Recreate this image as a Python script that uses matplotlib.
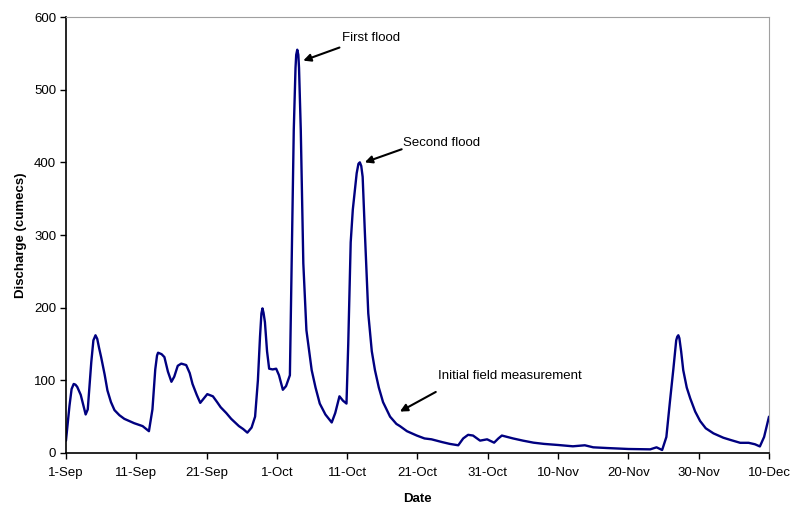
import matplotlib
matplotlib.use("Agg")
import matplotlib.pyplot as plt

plt.rcParams.update({
    "font.family": ["Liberation Sans", "DejaVu Sans"],
    "font.size": 9.5,
})

# ── data (days after 1-Sep, discharge in cumecs) ──────────────────────────────
days = [
    0, 0.5, 0.8, 1.1, 1.35, 1.6, 2.1, 2.8, 3.1, 3.6, 3.9, 4.2, 4.45, 4.7, 5.0,
    5.5, 5.9, 6.4, 6.9, 7.6, 8.3, 9.0, 9.7, 10.9, 11.8, 12.3, 12.7, 12.95,
    13.1, 13.6, 14.0, 14.5, 15.0, 15.4, 15.9, 16.4, 17.1, 17.6, 18.0, 18.6,
    19.1, 19.6, 20.1, 20.9, 21.5, 22.0, 22.8, 23.5, 24.6, 25.2, 25.8, 26.4,
    26.9, 27.3, 27.6, 27.8, 27.95, 28.1, 28.3, 28.6, 28.9, 29.4, 29.9, 30.3,
    30.85, 31.3, 31.85, 32.1, 32.4, 32.65, 32.75, 32.9, 33.05, 33.15, 33.4,
    33.76, 34.2, 34.95, 35.5, 36.1, 36.9, 37.8, 38.3, 38.9, 39.4, 39.9, 40.15,
    40.5, 40.8, 41.35, 41.6, 41.8, 42.0, 42.2, 42.5, 43.0, 43.5, 43.95, 44.5,
    45.1, 46.1, 47.0, 47.5, 48.5, 49.9, 51.0, 52.0, 53.5, 54.6, 55.8, 56.5,
    57.2, 57.9, 58.9, 59.9, 60.9, 61.5, 62.0, 63.6, 65.0, 66.5, 68.0, 70.0,
    72.1, 73.8, 75.0, 77.0, 80.0, 83.1, 84.0, 84.8, 85.4, 85.9, 86.4, 86.8,
    86.95, 87.1, 87.25, 87.5, 87.8, 88.3, 88.8, 89.5, 90.2, 91.0, 92.1, 93.5,
    94.5, 95.9, 97.1, 98.0, 98.7, 99.3, 100.0,
]
discharge = [
    17, 65, 88, 95, 94, 91, 80, 53, 60, 125, 155, 162, 157, 145, 132,
    108, 86, 70, 59, 52, 47, 44, 41, 37, 30, 60, 115, 134,
    138, 136, 132, 112, 98, 105, 120, 123, 121, 110, 95, 80,
    69, 75, 81, 78, 70, 63, 55, 47, 37, 33, 28, 35,
    50, 100, 160, 192, 199, 193, 180, 140, 116, 115, 116, 107,
    87, 92, 107, 261, 444, 530, 548, 555, 548, 530, 444,
    261, 169, 114, 90, 68, 53, 42, 55, 78, 72, 68, 150,
    290, 335, 385, 398, 400, 395, 380, 307, 192, 140, 114, 90,
    70, 50, 40, 37, 30, 24, 20, 18.8, 15, 12.5, 10.6, 20,
    25, 24, 17, 18.8, 14.2, 20, 24, 20, 17, 14.2, 12.5, 11,
    9.2, 10.6, 7.8, 6.8, 5.5, 5, 7.8, 4.1, 22, 70, 116, 155,
    160, 162, 158, 140, 114, 90, 75, 57, 44, 34, 27, 21,
    18, 14, 14, 12, 9, 22, 50,
]

tick_days = [0, 10, 20, 30, 40, 50, 60, 70, 80, 90, 100]
tick_labels = ["1-Sep", "11-Sep", "21-Sep", "1-Oct", "11-Oct", "21-Oct",
               "31-Oct", "10-Nov", "20-Nov", "30-Nov", "10-Dec"]

# ── figure ────────────────────────────────────────────────────────────────────
fig = plt.figure(figsize=(7.91, 5.05), dpi=100)
ax = fig.add_axes([0.0834, 0.103, 0.8888, 0.8633])

ax.plot(days, discharge, color="#000080", linewidth=1.7,
        solid_joinstyle="round", solid_capstyle="round")

ax.set_xlim(0, 100)
ax.set_ylim(0, 600)
ax.set_xticks(tick_days)
ax.set_xticklabels(tick_labels)
ax.set_yticks(range(0, 601, 100))

ax.tick_params(axis="x", direction="out", length=4, width=1, pad=6)
ax.tick_params(axis="y", direction="out", length=4, width=1, pad=3)

for side in ["top", "right"]:
    ax.spines[side].set_color("#a0a0a0")
for side in ["left", "bottom"]:
    ax.spines[side].set_color("black")
    ax.spines[side].set_linewidth(1.2)

ax.set_xlabel("Date", fontweight="bold", labelpad=10)
ax.set_ylabel("Discharge (cumecs)", fontweight="bold", labelpad=5)

# ── annotations ───────────────────────────────────────────────────────────────
arrow = dict(arrowstyle="-|>", color="black", lw=1.5, mutation_scale=11,
             shrinkA=0, shrinkB=0)

ax.annotate("", xy=(33.75, 540), xytext=(38.9, 558), arrowprops=arrow)
ax.text(39.2, 571, "First flood", ha="left", va="center")

ax.annotate("", xy=(42.5, 400), xytext=(47.75, 418), arrowprops=arrow)
ax.text(48.0, 427, "Second flood", ha="left", va="center")

ax.annotate("", xy=(47.5, 57), xytext=(52.6, 84), arrowprops=arrow)
ax.text(52.9, 106, "Initial field measurement", ha="left", va="center")

fig.savefig("out.png", dpi=100)
